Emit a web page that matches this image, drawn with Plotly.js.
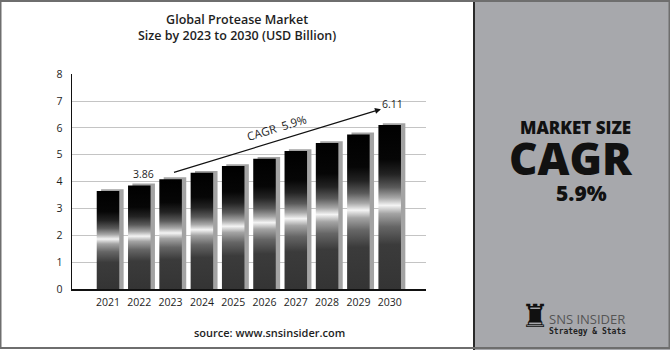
<!DOCTYPE html>
<html>
<head>
<meta charset="utf-8">
<script src="https://cdn.plot.ly/plotly-3.0.1.min.js"></script>
<style>html,body{margin:0;padding:0;background:#fff;}#chart{width:670px;height:350px;}</style>
</head>
<body>
<div id="chart"></div>
<script>
// ---- data ----
const years = ["2021","2022","2023","2024","2025","2026","2027","2028","2029","2030"];
const values = [3.65, 3.86, 4.09, 4.33, 4.58, 4.85, 5.14, 5.44, 5.76, 6.11];
const yTicks = [0,1,2,3,4,5,6,7,8];
const cagrText = "CAGR&nbsp;&nbsp;5.9%";

// ---- build ----
const idx = years.map((_, i) => i);
const halfW = 0.36;
const gradScale = [
  [0.00, '#343434'], [0.27, '#3b3b3b'], [0.38, '#666666'], [0.46, '#a4a4a4'],
  [0.51, '#f4f4f4'], [0.555, '#a8a8a8'], [0.62, '#5a5a5a'], [0.70, '#232323'],
  [0.79, '#060606'], [1.00, '#000000']
];

const traces = [];
// shadow bars
traces.push({
  type: 'bar', x: idx, y: values.map(v => v + 0.07), width: 0.72, offset: -0.22,
  marker: {color: '#a3a3a3', line: {width: 0}}, hoverinfo: 'skip', showlegend: false
});
// gradient bars
values.forEach((v, i) => {
  traces.push({
    type: 'scatter', mode: 'lines',
    x: [i - halfW, i + halfW, i + halfW, i - halfW, i - halfW],
    y: [0, 0, v, v, 0],
    fill: 'toself', line: {width: 0, color: 'rgba(0,0,0,0)'},
    fillgradient: {type: 'vertical', colorscale: gradScale},
    hoverinfo: 'skip', showlegend: false
  });
});

const W = 670, H = 350;
const px = x => x / W, py = y => 1 - y / H;
const dark = '#1e1e1e';

const annotations = [
  {xref:'paper', yref:'paper', x: px(237), y: py(27.5), text: 'Global Protease Market<br>Size by 2023 to 2030 (USD Billion)',
   showarrow:false, font:{family:'Open Sans', size:12.5, weight:600, color:dark}, xanchor:'center', yanchor:'middle'},
  {xref:'x', yref:'y', x: 1, y: values[1], text: values[1].toFixed(2), showarrow:false, yanchor:'bottom', yshift:2, xshift:4,
   font:{family:'Open Sans', size:10.5, color:dark}},
  {xref:'x', yref:'y', x: 9, y: values[9], text: values[9].toFixed(2), showarrow:false, yanchor:'bottom', yshift:12, xshift:3,
   font:{family:'Open Sans', size:10.5, color:dark}},
  {xref:'x', yref:'y', x: 8.72, y: 6.70, ax: 2.06, ay: 4.33, axref:'x', ayref:'y', text:'', showarrow:true,
   arrowhead:2, arrowsize:1, arrowwidth:1.2, arrowcolor:'#111'},
  {xref:'paper', yref:'paper', x: px(277), y: py(128), text: cagrText, textangle: -17, showarrow:false,
   font:{family:'Open Sans', size:11.5, color:dark}, xanchor:'center', yanchor:'middle'},
  {xref:'paper', yref:'paper', x: px(269), y: py(332), text: 'source: www.snsinsider.com', showarrow:false,
   font:{family:'Open Sans', size:11, weight:600, color:dark}, xanchor:'center', yanchor:'middle'},
  {xref:'paper', yref:'paper', x: px(575), y: py(127), text: 'MARKET SIZE', showarrow:false,
   font:{family:'Open Sans', size:17, weight:800, color:'#111'}, xanchor:'center', yanchor:'middle'},
  {xref:'paper', yref:'paper', x: px(571), y: py(158), text: 'CAGR', showarrow:false,
   font:{family:'Open Sans', size:44, weight:800, color:'#111'}, xanchor:'center', yanchor:'middle'},
  {xref:'paper', yref:'paper', x: px(581), y: py(193), text: '5.9%', showarrow:false,
   font:{family:'Open Sans', size:21, weight:800, color:'#111'}, xanchor:'center', yanchor:'middle'},
  {xref:'paper', yref:'paper', x: px(535), y: py(316), text: '\u265C', showarrow:false,
   font:{family:'DejaVu Sans', size:32, color:'#111'}, xanchor:'center', yanchor:'middle'},
  {xref:'paper', yref:'paper', x: px(547), y: py(319), text: 'SNS INSIDER', showarrow:false,
   font:{family:'Open Sans', size:13, color:'#555'}, xanchor:'left', yanchor:'middle'},
  {xref:'paper', yref:'paper', x: px(547), y: py(331), text: 'Strategy & Stats', showarrow:false,
   font:{family:'DejaVu Sans Mono', size:8, weight:700, color:'#222'}, xanchor:'left', yanchor:'middle'}
];

const shapes = [
  {type:'rect', xref:'paper', yref:'paper', x0: px(474), x1: 1, y0: 0, y1: 1, fillcolor:'#a7a8ac', line:{width:0}, layer:'below'},
  {type:'line', xref:'paper', yref:'paper', x0: px(474), x1: px(474), y0: 0, y1: 1, line:{color:'#2a2a2a', width:2}},
  {type:'rect', xref:'paper', yref:'paper', x0: px(0.5), x1: px(669.5), y0: py(1), y1: py(348), line:{color:'#6e6e6e', width:2}, fillcolor:'rgba(0,0,0,0)'}
];

const layout = {
  width: W, height: H, margin: {l:0, r:0, t:0, b:0},
  paper_bgcolor: '#ffffff', plot_bgcolor: 'rgba(0,0,0,0)',
  showlegend: false, barmode: 'overlay',
  xaxis: {
    domain: [px(72), px(426)], range: [-1.15, 10.16],
    tickvals: idx, ticktext: years, showgrid: false, zeroline: false,
    showline: true, linecolor: '#111', linewidth: 1.5,
    ticks: 'outside', ticklen: 3, tickcolor: 'rgba(0,0,0,0)',
    tickfont: {family: 'Open Sans', size: 10.5, color: dark}, fixedrange: true
  },
  yaxis: {
    domain: [1 - 289/H, 1 - 74.3/H], range: [0, 8],
    tickvals: yTicks, showgrid: true, gridcolor: '#c4c4c4', gridwidth: 1, zeroline: false,
    showline: true, linecolor: '#111', linewidth: 1.5,
    ticks: 'outside', ticklen: 6, tickcolor: 'rgba(0,0,0,0)',
    tickfont: {family: 'Open Sans', size: 10.5, color: dark}, fixedrange: true
  },
  annotations: annotations, shapes: shapes
};

Plotly.newPlot('chart', traces, layout, {displayModeBar: false, staticPlot: true});
</script>
</body>
</html>
